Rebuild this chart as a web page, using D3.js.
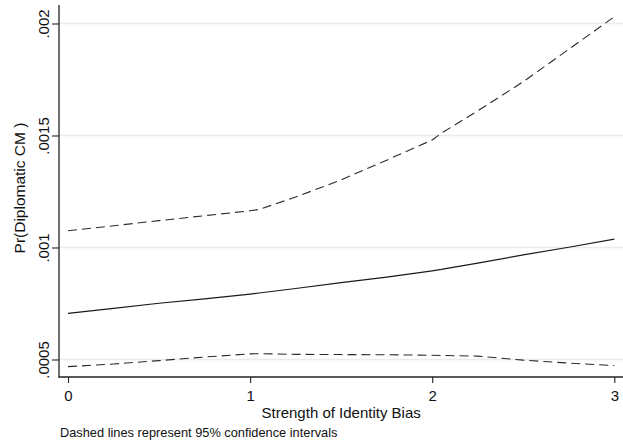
<!DOCTYPE html>
<html>
<head>
<meta charset="utf-8">
<script src="https://cdn.jsdelivr.net/npm/d3@7/dist/d3.min.js"></script>
<style>
  html, body { margin: 0; padding: 0; background: #ffffff; }
  svg { display: block; font-family: "Liberation Sans", Arial, sans-serif; }
</style>
</head>
<body>
<svg id="chart" width="623" height="445"></svg>
<script>
// Strength of identity bias (x) and predicted probability of a diplomatic CM
const biasLevels = [0, 0.25, 0.5, 0.75, 1, 1.05, 1.25, 1.5, 1.75, 2, 2.05, 2.25, 2.5, 2.75, 3];
const predicted  = [0.000706, 0.000728, 0.000751, 0.000771, 0.000792, 0.000797, 0.000817, 0.000843, 0.000868, 0.000896, 0.000902, 0.000930, 0.000967, 0.001001, 0.001037];
const upperCI    = [0.001075, 0.001097, 0.001120, 0.001142, 0.001164, 0.001170, 0.001225, 0.001302, 0.001390, 0.001480, 0.001510, 0.001610, 0.001740, 0.001885, 0.002030];
const lowerCI    = [0.000468, 0.000480, 0.000495, 0.000511, 0.000525, 0.000526, 0.000523, 0.000522, 0.000521, 0.000519, 0.000518, 0.000515, 0.000497, 0.000484, 0.000473];

const xTicks = [0, 1, 2, 3];
const yTicks = [0.0005, 0.001, 0.0015, 0.002];
const yTickLabels = [".0005", ".001", ".0015", ".002"];

const xTitle = "Strength of Identity Bias";
const yTitle = "Pr(Diplomatic CM )";
const note = "Dashed lines represent 95% confidence intervals";

const svg = d3.select("#chart");

// plot region
const plotLeft = 59, plotRight = 623, plotTop = 5, plotBottom = 377;

const x = d3.scaleLinear().domain([0, 3]).range([68, 614.3]);
const y = d3.scaleLinear().domain([0.0005, 0.002]).range([359.5, 23.5]);

// horizontal gridlines
svg.append("g")
  .selectAll("line")
  .data(yTicks)
  .join("line")
  .attr("x1", plotLeft).attr("x2", plotRight)
  .attr("y1", d => y(d)).attr("y2", d => y(d))
  .attr("stroke", "#ebebeb")
  .attr("stroke-width", 1.4);

// y axis
const yAxis = d3.axisLeft(y)
  .tickValues(yTicks)
  .tickFormat((d, i) => yTickLabels[i])
  .tickSize(7)
  .tickSizeOuter(0);
const gy = svg.append("g").attr("transform", `translate(${plotLeft},0)`).call(yAxis);
gy.select(".domain").remove();
gy.selectAll(".tick line").attr("stroke", "#222").attr("stroke-width", 1.1);
gy.selectAll(".tick text")
  .attr("x", null).attr("dy", null)
  .attr("transform", "translate(-10.5,0) rotate(-90)")
  .attr("text-anchor", "middle")
  .attr("font-size", 15)
  .attr("fill", "#111");

// x axis
const xAxis = d3.axisBottom(x)
  .tickValues(xTicks)
  .tickFormat(d3.format("d"))
  .tickSize(6)
  .tickSizeOuter(0);
const gx = svg.append("g").attr("transform", `translate(0,${plotBottom})`).call(xAxis);
gx.select(".domain").remove();
gx.selectAll(".tick line").attr("stroke", "#222").attr("stroke-width", 1.1);
gx.selectAll(".tick text")
  .attr("y", 24).attr("dy", null)
  .attr("font-size", 15)
  .attr("fill", "#111");

// axis lines
svg.append("line")
  .attr("x1", plotLeft).attr("x2", plotLeft).attr("y1", plotTop).attr("y2", plotBottom + 0.5)
  .attr("stroke", "#222").attr("stroke-width", 1.3);
svg.append("line")
  .attr("x1", plotLeft - 0.5).attr("x2", plotRight).attr("y1", plotBottom).attr("y2", plotBottom)
  .attr("stroke", "#222").attr("stroke-width", 1.3);

// series
const line = vals => d3.line()
  .x((d, i) => x(biasLevels[i]))
  .y(d => y(d))(vals);

svg.append("path")
  .attr("d", line(upperCI))
  .attr("fill", "none")
  .attr("stroke", "#2a2a2a")
  .attr("stroke-width", 1.1)
  .attr("stroke-dasharray", "9,5");

svg.append("path")
  .attr("d", line(lowerCI))
  .attr("fill", "none")
  .attr("stroke", "#2a2a2a")
  .attr("stroke-width", 1.1)
  .attr("stroke-dasharray", "9,5");

svg.append("path")
  .attr("d", line(predicted))
  .attr("fill", "none")
  .attr("stroke", "#1a1a1a")
  .attr("stroke-width", 1.2);

// titles
svg.append("text")
  .attr("x", (x(0) + x(3)) / 2)
  .attr("y", 417.5)
  .attr("text-anchor", "middle")
  .attr("font-size", 15)
  .attr("fill", "#111")
  .text(xTitle);

svg.append("text")
  .attr("transform", `translate(25,${(plotTop + plotBottom) / 2 - 3}) rotate(-90)`)
  .attr("text-anchor", "middle")
  .attr("font-size", 15.5)
  .attr("fill", "#111")
  .text(yTitle);

svg.append("text")
  .attr("x", 60)
  .attr("y", 436.5)
  .attr("font-size", 12.8)
  .attr("fill", "#111")
  .text(note);
</script>
</body>
</html>
